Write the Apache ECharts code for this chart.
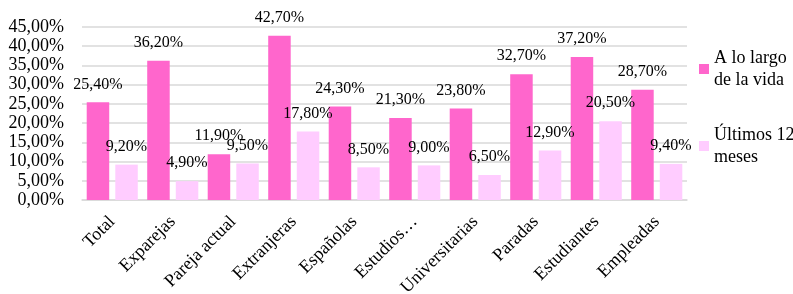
<!DOCTYPE html>
<html>
<head>
<meta charset="utf-8">
<script src="https://cdn.jsdelivr.net/npm/echarts@6/dist/echarts.min.js"></script>
<style>
  html, body { margin: 0; padding: 0; background: #fff; }
  #chart { width: 793px; height: 294px; }
</style>
</head>
<body>
<div id="chart"></div>
<script>
  // categorías y valores (%)
  const categorias = ['Total', 'Exparejas', 'Pareja actual', 'Extranjeras', 'Españolas',
    'Estudios…', 'Universitarias', 'Paradas', 'Estudiantes', 'Empleadas'];
  const vida = [25.4, 36.2, 11.9, 42.7, 24.3, 21.3, 23.8, 32.7, 37.2, 28.7];
  const ultimos = [9.2, 4.9, 9.5, 17.8, 8.5, 9.0, 6.5, 12.9, 20.5, 9.4];
  const series1 = 'A lo largo\nde la vida';
  const series2 = 'Últimos 12\nmeses';

  const fmt = v => v.toFixed(2).replace('.', ',') + '%';
  const font = 'Liberation Serif';

  const chart = echarts.init(document.getElementById('chart'));
  const labelOpt = {
    show: true,
    position: 'top',
    distance: 10,
    fontFamily: font,
    fontSize: 16,
    color: '#000',
    formatter: p => fmt(p.value)
  };
  const option = {
    animation: false,
    textStyle: { fontFamily: font },
    grid: { left: 82, right: 106, top: 27, bottom: 94, containLabel: false, outerBoundsMode: 'none' },
    legend: {
      orient: 'vertical',
      left: 694,
      top: 42,
      itemWidth: 10,
      itemHeight: 10,
      itemGap: 33,
      icon: 'rect',
      textStyle: { fontFamily: font, fontSize: 18, color: '#000', lineHeight: 22 },
      data: [series1, series2]
    },
    xAxis: {
      type: 'category',
      data: categorias,
      axisLine: { lineStyle: { color: '#d9d9d9', width: 1.5 } },
      axisTick: { show: false },
      axisLabel: {
        interval: 0,
        rotate: 45,
        margin: 19,
        fontFamily: font,
        fontSize: 18,
        color: '#000'
      }
    },
    yAxis: {
      type: 'value',
      min: 0,
      max: 45,
      interval: 5,
      axisLine: { show: false },
      axisTick: { show: false },
      splitLine: { lineStyle: { color: '#d9d9d9', width: 1.5 } },
      axisLabel: {
        fontFamily: font,
        fontSize: 18,
        color: '#000',
        margin: 18,
        formatter: v => fmt(v)
      }
    },
    series: [
      {
        name: series1,
        type: 'bar',
        data: vida,
        barWidth: 22.5,
        barGap: '27%',
        itemStyle: { color: '#FF66CC' },
        label: labelOpt
      },
      {
        name: series2,
        type: 'bar',
        data: ultimos,
        barWidth: 22.5,
        itemStyle: { color: '#FFCCFF' },
        label: labelOpt
      }
    ]
  };
  chart.setOption(option);
</script>
</body>
</html>
